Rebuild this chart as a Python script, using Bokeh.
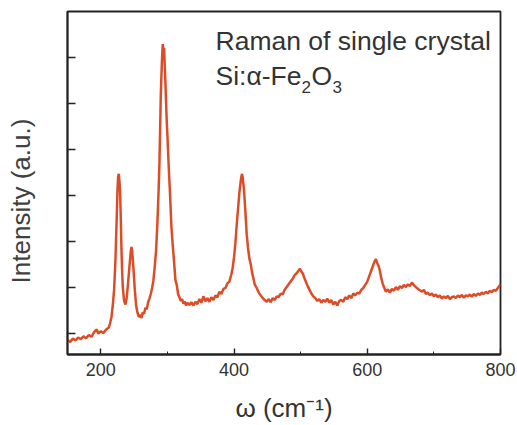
import math
from bokeh.plotting import figure
from bokeh.models import Label, FixedTicker, Range1d
from bokeh.embed import file_html
from bokeh.resources import INLINE

# Raman shift (cm^-1) and intensity (arbitrary units, tick spacing = 1)
omega = [150, 154, 158, 162, 166, 170, 174, 178, 182, 186, 190, 194, 196, 200, 204, 208, 212, 214, 216, 218,
         220, 222, 224, 225, 226, 227, 228, 229, 230, 231, 232, 233, 235, 237, 239, 241, 243, 245, 246, 247,
         249, 251, 253, 255, 257, 259, 261, 263, 265, 267, 269, 271, 273, 275, 277, 279, 281, 283, 285, 287,
         288, 289, 290, 291, 292, 293, 294, 295, 296, 297, 298, 299, 300, 302, 304, 306, 308, 310, 312, 314,
         316, 318, 320, 322, 324, 326, 328, 330, 333, 336, 339, 342, 345, 348, 351, 354, 357, 360, 363, 366,
         369, 372, 375, 378, 381, 384, 387, 390, 393, 396, 398, 400, 402, 404, 406, 408, 410, 411, 412, 413,
         414, 415, 417, 419, 421, 423, 425, 427, 429, 431, 434, 437, 440, 443, 446, 449, 452, 455, 458, 461,
         464, 467, 470, 473, 476, 479, 482, 485, 488, 491, 494, 497, 499, 501, 503, 505, 507, 510, 513, 516,
         519, 522, 525, 528, 531, 534, 537, 540, 543, 546, 549, 552, 555, 558, 561, 564, 567, 570, 573, 576,
         579, 582, 585, 588, 591, 594, 597, 600, 603, 606, 609, 611, 613, 615, 617, 619, 621, 623, 625, 628,
         631, 634, 637, 640, 643, 646, 649, 652, 655, 658, 661, 664, 667, 670, 673, 676, 679, 682, 685, 688,
         691, 694, 697, 700, 703, 706, 709, 712, 715, 718, 721, 724, 727, 730, 733, 736, 739, 742, 745, 748,
         751, 754, 757, 760, 763, 766, 769, 772, 775, 778, 781, 784, 787, 790, 793, 796, 799, 800]

intensity = [-0.15, -0.19, -0.12, -0.16, -0.10, -0.13, -0.07, -0.11, -0.04, -0.08, 0.02, 0.08, -0.01, 0.04, 0.00, 0.08, 0.12, 0.22, 0.35, 0.60,
             0.95, 1.60, 2.55, 3.10, 3.40, 3.46, 3.30, 3.05, 2.50, 1.83, 1.35, 1.00, 0.70, 0.62, 0.78, 1.10, 1.45, 1.78, 1.87, 1.80,
             1.40, 0.95, 0.60, 0.45, 0.35, 0.40, 0.33, 0.45, 0.42, 0.55, 0.52, 0.67, 0.75, 0.85, 0.98, 1.15, 1.45, 1.80, 2.40, 3.20,
             3.70, 4.40, 5.15, 5.60, 6.00, 6.28, 6.15, 6.20, 5.80, 5.45, 5.00, 4.60, 4.30, 3.60, 3.00, 2.30, 1.90, 1.55, 1.15, 1.05,
             0.85, 0.78, 0.70, 0.74, 0.64, 0.69, 0.60, 0.66, 0.61, 0.67, 0.60, 0.68, 0.63, 0.74, 0.66, 0.80, 0.69, 0.76, 0.68, 0.78,
             0.72, 0.82, 0.78, 0.90, 0.85, 0.96, 0.98, 1.08, 1.12, 1.28, 1.42, 1.65, 1.95, 2.35, 2.70, 3.05, 3.30, 3.40, 3.46, 3.38,
             3.25, 3.10, 2.65, 2.15, 1.85, 1.62, 1.50, 1.32, 1.20, 1.06, 0.98, 0.88, 0.82, 0.76, 0.72, 0.68, 0.74, 0.67, 0.76, 0.72,
             0.80, 0.78, 0.86, 0.84, 0.94, 1.00, 1.06, 1.12, 1.18, 1.26, 1.30, 1.36, 1.40, 1.34, 1.30, 1.22, 1.15, 1.04, 0.95, 0.86,
             0.80, 0.76, 0.70, 0.74, 0.66, 0.72, 0.68, 0.75, 0.66, 0.72, 0.62, 0.68, 0.60, 0.70, 0.72, 0.68, 0.78, 0.74, 0.82, 0.76,
             0.86, 0.82, 0.88, 0.86, 0.94, 0.98, 1.05, 1.12, 1.24, 1.36, 1.48, 1.56, 1.61, 1.52, 1.46, 1.35, 1.20, 1.08, 1.00, 0.90,
             0.95, 0.88, 0.96, 0.92, 1.00, 0.94, 1.02, 0.98, 1.05, 1.00, 1.06, 1.02, 1.10, 1.04, 1.00, 0.96, 0.93, 0.90, 0.94, 0.85,
             0.88, 0.82, 0.86, 0.80, 0.84, 0.78, 0.82, 0.75, 0.80, 0.76, 0.81, 0.74, 0.78, 0.80, 0.76, 0.82, 0.78, 0.83, 0.77, 0.82,
             0.80, 0.84, 0.79, 0.85, 0.81, 0.86, 0.83, 0.88, 0.85, 0.90, 0.86, 0.92, 0.89, 0.94, 0.92, 0.98, 1.04, 1.06]

x_ticks = [200, 400, 600, 800]
x_minor = [300, 500, 700]
y_ticks = [0, 1, 2, 3, 4, 5, 6]

FONT = "Liberation Sans"
TXT = "#333333"

p = figure(width=517, height=425, output_backend="svg", toolbar_location=None,
           x_range=Range1d(150, 800), y_range=Range1d(-0.465, 6.99),
           min_border_left=67, min_border_right=17, min_border_top=11, min_border_bottom=69)
p.background_fill_color = "white"
p.border_fill_color = "white"
p.grid.visible = False
p.outline_line_color = "#222222"
p.outline_line_width = 1.8
p.outline_line_alpha = 1

p.line(omega, intensity, line_color="#DC4C26", line_width=2.5)

xa = p.xaxis[0]
xa.ticker = FixedTicker(ticks=x_ticks, minor_ticks=x_minor)
xa.major_tick_in = 6
xa.major_tick_out = 0
xa.minor_tick_in = 3
xa.minor_tick_out = 0
xa.axis_line_color = "#222222"
xa.axis_line_width = 1.8
xa.major_tick_line_color = "#222222"
xa.minor_tick_line_color = "#222222"
xa.major_tick_line_width = 1.4
xa.major_label_text_font = FONT
xa.major_label_text_font_size = "18px"
xa.major_label_text_color = TXT
xa.major_label_standoff = 8
xa.axis_label = "\u03c9 (cm\u207b\u00b9)"
xa.axis_label_text_font = FONT
xa.axis_label_text_font_size = "26px"
xa.axis_label_text_font_style = "normal"
xa.axis_label_text_color = TXT
xa.axis_label_standoff = 14

ya = p.yaxis[0]
ya.ticker = FixedTicker(ticks=y_ticks, minor_ticks=[])
ya.major_tick_in = 8
ya.major_tick_out = 0
ya.minor_tick_in = 0
ya.minor_tick_out = 0
ya.axis_line_color = "#222222"
ya.axis_line_width = 1.8
ya.major_tick_line_color = "#222222"
ya.major_tick_line_width = 1.4
ya.major_label_text_font_size = "0px"
ya.major_label_text_alpha = 0
ya.major_label_standoff = 0
ya.axis_label = "Intensity (a.u.)" + "\u00a0" * 5
ya.axis_label_text_font = FONT
ya.axis_label_text_font_size = "26px"
ya.axis_label_text_font_style = "normal"
ya.axis_label_text_color = "#404040"
ya.axis_label_standoff = 32

def lab(text, x, y, size, color=TXT, **kw):
    p.add_layout(Label(x=x, y=y, x_units="screen", y_units="screen", text=text,
                       text_font=FONT, text_font_size=size, text_color=color,
                       text_baseline="alphabetic", **kw))

# annotation inside the frame (screen units relative to the frame's bottom-left)
lab("Raman of single crystal", 148, 314, "26.5px")
lab("Si:\u03b1-Fe", 148, 279, "26.5px")
lab("2", 234, 268, "17px")
lab("O", 244, 279, "26.5px")
lab("3", 265, 268, "17px")

open("out.html", "w").write(file_html(p, INLINE))
